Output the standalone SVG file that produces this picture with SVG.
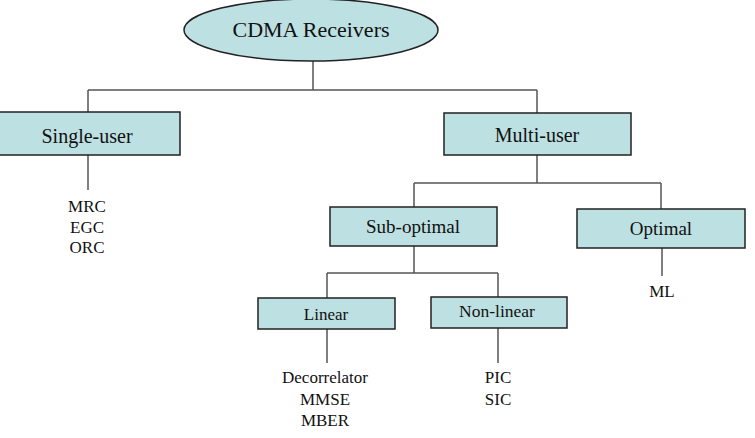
<svg xmlns="http://www.w3.org/2000/svg" width="755" height="438" viewBox="0 0 755 438">
<style>
.box{fill:#bde0e2;stroke:#222;stroke-width:1.5}
.t{fill:#111;text-anchor:middle;font-family:'Times New Roman',Times,Tinos,'Noto Serif','FreeSerif','Liberation Serif','DejaVu Serif',serif}
.c{fill:none;stroke:#555;stroke-width:1.5}
</style>
<rect width="755" height="438" fill="#fff"/>
<g id="connectors">
<path class="c" d="M313,61V90M88,90H537M88,90V112M537,90V113"/>
<path class="c" d="M88,155V190"/>
<path class="c" d="M537,155V183M414,183H661M414,183V207M661,183V209"/>
<path class="c" d="M414,246V273M327,273H498M327,273V298M498,273V297"/>
<path class="c" d="M327,329V363M498,328V363M662,248V276"/>
</g>
<g id="root">
<ellipse class="box" cx="311" cy="30" rx="127" ry="31"/>
<text class="t" x="311" y="37" font-size="22">CDMA Receivers</text>
</g>
<g id="single-user">
<rect class="box" x="-2" y="112" width="182" height="43"/>
<text class="t" x="87" y="143" font-size="20">Single-user</text>
</g>
<g id="single-user-list">
<text class="t" x="87" y="212" font-size="17">MRC</text>
<text class="t" x="87" y="233" font-size="17">EGC</text>
<text class="t" x="87" y="253" font-size="17">ORC</text>
</g>
<g id="multi-user">
<rect class="box" x="444" y="113" width="187" height="42"/>
<text class="t" x="537" y="142" font-size="20">Multi-user</text>
</g>
<g id="sub-optimal">
<rect class="box" x="330" y="207" width="167" height="39"/>
<text class="t" x="413" y="233" font-size="19">Sub-optimal</text>
</g>
<g id="optimal">
<rect class="box" x="577" y="209" width="168" height="39"/>
<text class="t" x="661" y="235" font-size="19">Optimal</text>
</g>
<g id="optimal-list">
<text class="t" x="662" y="297" font-size="17">ML</text>
</g>
<g id="linear">
<rect class="box" x="258" y="298" width="137" height="31"/>
<text class="t" x="326" y="320" font-size="17">Linear</text>
</g>
<g id="linear-list">
<text class="t" x="325" y="383" font-size="17">Decorrelator</text>
<text class="t" x="325" y="405" font-size="17">MMSE</text>
<text class="t" x="325" y="426" font-size="17">MBER</text>
</g>
<g id="non-linear">
<rect class="box" x="431" y="297" width="136" height="31"/>
<text class="t" x="497" y="317" font-size="17.5">Non-linear</text>
</g>
<g id="non-linear-list">
<text class="t" x="498" y="383" font-size="17">PIC</text>
<text class="t" x="498" y="405" font-size="17">SIC</text>
</g>
</svg>
